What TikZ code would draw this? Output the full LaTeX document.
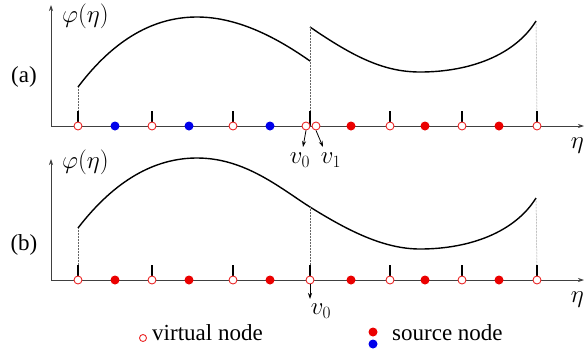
\documentclass[tikz,border=0pt]{standalone}
\usepackage{fontspec}
\setmainfont{Liberation Serif}
\newfontfamily\tms{Liberation Serif}
\usetikzlibrary{arrows.meta}
\definecolor{vred}{RGB}{235,40,40}
\definecolor{sred}{RGB}{235,0,0}
\definecolor{sblue}{RGB}{0,0,235}
\begin{document}
\begin{tikzpicture}[x=1pt,y=-1pt,
  axis/.style={draw=black!75,line width=0.7pt,-{Stealth[length=6pt,width=4pt]}},
  curve/.style={draw=black,line width=1.4pt},
  guide/.style={draw=black!60,line width=0.5pt,densely dotted},
  tick/.style={draw=black,line width=1.3pt},
  vnode/.style={circle,draw=vred,fill=white,line width=0.9pt,minimum size=8pt,inner sep=0pt},
  rnode/.style={circle,fill=sred,minimum size=9pt,inner sep=0pt},
  bnode/.style={circle,fill=sblue,minimum size=9pt,inner sep=0pt},
  varrow/.style={draw=black,line width=0.8pt,-{Stealth[length=6pt,width=4pt]}},
  lbl/.style={font=\tms\fontsize{23}{27}\selectfont,inner sep=0pt},
  mlbl/.style={font=\fontsize{24}{28}\selectfont,inner sep=0pt}]
\useasboundingbox (0,0) rectangle (584,354);

% ---------- panel (a) ----------
\coordinate (aO) at (51,126);
\coordinate (aY) at (51,5);
\coordinate (aX) at (584,126);
\draw[axis] (aO) -- (aY);
\draw[axis] (aO) -- (aX);
\node[mlbl,anchor=west] (aphi) at (62,16) {$\varphi(\eta)$};
\node[lbl] (alab) at (24,77) {(a)};
\node[mlbl,anchor=east] (aeta) at (584,146) {$\eta$};

% curve pieces
\draw[curve] (78,87) .. controls (115,38) and (155,17) .. (197,17) .. controls (240,17) and (280,40) .. (310,61);
\draw[curve] (310,27) .. controls (355,58) and (385,72) .. (420,72) .. controls (470,72) and (515,55) .. (536,21);

% ticks
\foreach \x/\n in {78/1,152/2,233/3,310/4,390/5,462/6,537/7}{
  \coordinate (at\n) at (\x,111);
  \draw[tick] (at\n) -- (\x,126);
}
\draw[guide] (78,87) -- (at1);
\draw[guide] (310,27) -- (at4);
\draw[guide] (536,21) -- (at7);

% nodes
\node[vnode] (av1) at (78,126) {};
\node[bnode] (as1) at (115,126) {};
\node[vnode] (av2) at (152,126) {};
\node[bnode] (as2) at (189,126) {};
\node[vnode] (av3) at (233,126) {};
\node[bnode] (as3) at (270,126) {};
\node[vnode] (av0) at (306,126) {};
\node[vnode] (avv1) at (316,126) {};
\node[rnode] (as4) at (351,126) {};
\node[vnode] (av5) at (390,126) {};
\node[rnode] (as5) at (425,126) {};
\node[vnode] (av6) at (462,126) {};
\node[rnode] (as6) at (499,126) {};
\node[vnode] (av7) at (537,126) {};

\coordinate (av0end) at (303,147);
\coordinate (av1end) at (323,147);
\draw[varrow] (av0.south) -- (av0end);
\draw[varrow] (avv1.south) -- (av1end);
\node[mlbl] (lv0) at (300,160) {$v_0$};
\node[mlbl] (lv1) at (331,160) {$v_1$};

% ---------- panel (b) ----------
\coordinate (bO) at (51,280);
\coordinate (bY) at (51,159);
\coordinate (bX) at (584,280);
\draw[axis] (bO) -- (bY);
\draw[axis] (bO) -- (bX);
\node[mlbl,anchor=west] (bphi) at (62,162) {$\varphi(\eta)$};
\node[lbl] (blab) at (24,245) {(b)};
\node[mlbl,anchor=east] (beta) at (584,300) {$\eta$};

\draw[curve] (78,228) .. controls (115,180) and (155,158) .. (197,158) .. controls (245,158) and (280,188) .. (310,207) .. controls (350,232) and (385,249) .. (420,249) .. controls (470,249) and (515,232) .. (536,198);

\foreach \x/\n in {78/1,152/2,233/3,310/4,390/5,462/6,537/7}{
  \coordinate (bt\n) at (\x,265);
  \draw[tick] (bt\n) -- (\x,280);
}
\draw[guide] (78,228) -- (bt1);
\draw[guide] (310,207) -- (bt4);
\draw[guide] (536,198) -- (bt7);

\node[vnode] (bv1) at (78,280) {};
\node[rnode] (bs1) at (115,280) {};
\node[vnode] (bv2) at (152,280) {};
\node[rnode] (bs2) at (189,280) {};
\node[vnode] (bv3) at (233,280) {};
\node[rnode] (bs3) at (270,280) {};
\node[vnode] (bv0) at (310,280) {};
\node[rnode] (bs4) at (351,280) {};
\node[vnode] (bv5) at (390,280) {};
\node[rnode] (bs5) at (425,280) {};
\node[vnode] (bv6) at (462,280) {};
\node[rnode] (bs6) at (499,280) {};
\node[vnode] (bv7) at (537,280) {};

\coordinate (bv0end) at (310,299);
\draw[varrow] (bv0.south) -- (bv0end);
\node[mlbl] (blv0) at (321,311) {$v_0$};

% ---------- legend ----------
\node[vnode,minimum size=7pt] (legv) at (143,338) {};
\node[lbl,anchor=west] (legvt) at (152,333) {virtual node};
\node[rnode] (legr) at (373,332) {};
\node[bnode] (legb) at (373,344) {};
\node[lbl,anchor=west] (legst) at (392,333) {source node};
\end{tikzpicture}
\end{document}
